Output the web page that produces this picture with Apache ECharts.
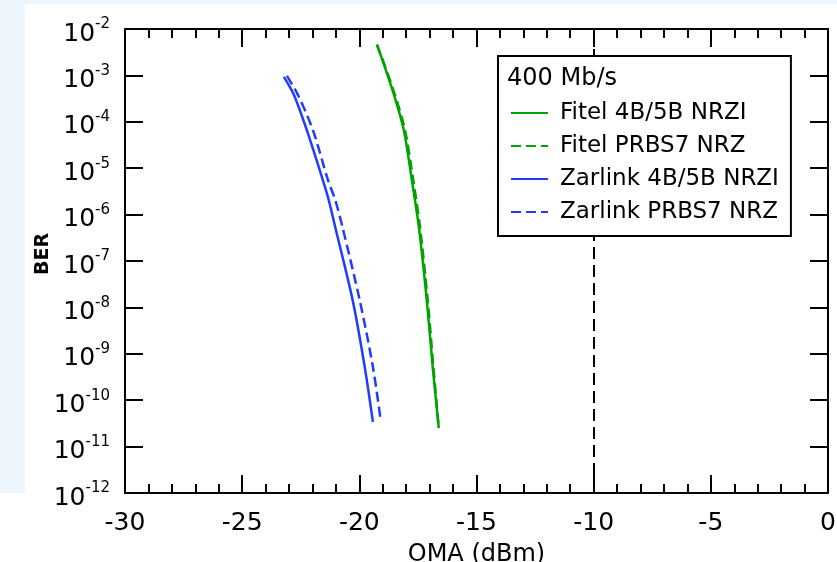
<!DOCTYPE html>
<html>
<head>
  <meta charset="utf-8"/>
  <script src="https://cdn.jsdelivr.net/npm/echarts@6/dist/echarts.min.js"></script>
  <style>
    html, body { margin: 0; padding: 0; background: #fff; }
    #chartmain { width: 837px; height: 562px; }
  </style>
</head>
<body>
  <div id="chartmain"></div>
  <script type="text/javascript">
    // BER values (log axis)
    var fitelBer = [4.6e-3, 1.9e-3, 3.4e-4, 6.6e-5, 5.6e-6, 5.4e-7, 1.4e-8, 5.2e-10, 2.5e-11];
    var fitel4b5bOma = [-19.25, -18.98, -18.49, -18.10, -17.76, -17.46, -17.12, -16.87, -16.61];
    var fitelPrbsOma = [-19.25, -18.96, -18.45, -18.05, -17.70, -17.41, -17.08, -16.84, -16.61];

    var zarlink4b5bBer = [9.3e-4, 3.8e-4, 6.6e-5, 5.6e-6, 2.0e-6, 5.4e-7, 1.4e-8, 5.2e-10, 3.4e-11];
    var zarlink4b5bOma = [-23.22, -22.79, -22.24, -21.56, -21.30, -21.03, -20.28, -19.77, -19.42];
    var zarlinkPrbsBer = [9.8e-4, 3.8e-4, 6.6e-5, 5.6e-6, 2.0e-6, 5.4e-7, 1.4e-8, 5.2e-10, 3.5e-11];
    var zarlinkPrbsOma = [-23.09, -22.62, -21.98, -21.34, -21.02, -20.72, -19.98, -19.42, -19.08];

    var seriesNames = ['Fitel 4B/5B NRZI', 'Fitel PRBS7 NRZ', 'Zarlink 4B/5B NRZI', 'Zarlink PRBS7 NRZ'];
    var limitOma = -10;

    var font = 'DejaVu Sans';
    var green = '#00a400';
    var blue = '#1f3cff';

    function pairs(xs, ys) {
      var out = [];
      for (var i = 0; i < xs.length; i++) out.push([xs[i], ys[i]]);
      return out;
    }

    function xAxisCfg(pos, showLabel) {
      return {
        type: 'value', position: pos, min: -30, max: 0, interval: 5,
        axisLine: { show: true, onZero: false, lineStyle: { color: '#000', width: 2 } },
        axisTick: { show: true, inside: true, length: 18, lineStyle: { color: '#000', width: 2 } },
        minorTick: { show: true, splitNumber: 5, length: 9, lineStyle: { color: '#000', width: 2 } },
        splitLine: { show: false },
        axisLabel: { show: showLabel, fontSize: 25, fontFamily: font, color: '#000', margin: 18 },
        name: showLabel ? 'OMA (dBm)' : '',
        nameLocation: 'middle', nameGap: 50, nameMoveOverlap: false,
        nameTextStyle: { fontSize: 24, fontFamily: font, color: '#000' }
      };
    }

    function yAxisCfg(pos, showLabel) {
      return {
        type: 'log', logBase: 10, position: pos, min: 1e-12, max: 1e-2, splitNumber: 10,
        axisLine: { show: true, onZero: false, lineStyle: { color: '#000', width: 2 } },
        axisTick: { show: true, inside: true, length: 18, lineStyle: { color: '#000', width: 2 } },
        splitLine: { show: false },
        axisLabel: {
          show: showLabel, margin: 15, padding: [10, 0, 0, 0],
          formatter: function (v) {
            var e = Math.round(Math.log10(v));
            return '{b|10}{s|' + e + '}';
          },
          rich: {
            b: { fontSize: 25, fontFamily: font, color: '#000', lineHeight: 34 },
            s: { fontSize: 15, fontFamily: font, color: '#000', lineHeight: 12, verticalAlign: 'top' }
          }
        },
        name: showLabel ? 'BER' : '',
        nameLocation: 'middle', nameGap: 72, nameRotate: 90, nameMoveOverlap: false,
        nameTextStyle: { fontSize: 19, fontWeight: 'bold', fontFamily: font, color: '#000', padding: [0, 0, 0, 14] }
      };
    }

    var option = {
      animation: false,
      backgroundColor: '#fff',
      graphic: [
        { type: 'rect', z: -10, shape: { x: 0, y: 0, width: 837, height: 4 }, style: { fill: '#eef6fd' } },
        { type: 'rect', z: -10, shape: { x: 0, y: 0, width: 25, height: 493 }, style: { fill: '#eef6fd' } }
      ],
      grid: { left: 125, right: 9, top: 29, bottom: 69, containLabel: false, outerBoundsMode: 'none' },
      title: {
        text: '400 Mb/s', left: 507, top: 67, padding: 0, z: 20,
        textStyle: { fontSize: 24, fontWeight: 'normal', fontFamily: font, color: '#000' }
      },
      legend: {
        data: seriesNames,
        z: 15,
        orient: 'vertical', left: 498, top: 56,
        padding: [45, 12, 12, 12],
        itemGap: 9, itemWidth: 37, itemHeight: 14,
        itemStyle: { opacity: 0 },
        backgroundColor: '#fff', borderColor: '#000', borderWidth: 2,
        textStyle: { fontSize: 23, fontFamily: font, color: '#000', lineHeight: 24, padding: [0, 0, 0, 7] }
      },
      xAxis: [xAxisCfg('bottom', true), xAxisCfg('top', false)],
      yAxis: [yAxisCfg('left', true), yAxisCfg('right', false)],
      series: [
        {
          name: seriesNames[0], type: 'line', smooth: 0.3, symbol: 'none',
          lineStyle: { color: green, width: 2.5 }, itemStyle: { color: green },
          data: pairs(fitel4b5bOma, fitelBer),
          markLine: {
            silent: true, symbol: ['none', 'none'],
            label: { show: false },
            lineStyle: { color: '#000', width: 2, type: [12, 6] },
            data: [{ xAxis: limitOma }]
          }
        },
        {
          name: seriesNames[1], type: 'line', smooth: 0.3, symbol: 'none',
          lineStyle: { color: green, width: 2.5, type: [10, 5] }, itemStyle: { color: green },
          data: pairs(fitelPrbsOma, fitelBer)
        },
        {
          name: seriesNames[2], type: 'line', smooth: 0.3, symbol: 'none',
          lineStyle: { color: blue, width: 2.5 }, itemStyle: { color: blue },
          data: pairs(zarlink4b5bOma, zarlink4b5bBer)
        },
        {
          name: seriesNames[3], type: 'line', smooth: 0.3, symbol: 'none',
          lineStyle: { color: blue, width: 2.5, type: [10, 5] }, itemStyle: { color: blue },
          data: pairs(zarlinkPrbsOma, zarlinkPrbsBer)
        }
      ]
    };

    var myChart = echarts.init(document.getElementById('chartmain'));
    myChart.setOption(option);
  </script>
</body>
</html>
